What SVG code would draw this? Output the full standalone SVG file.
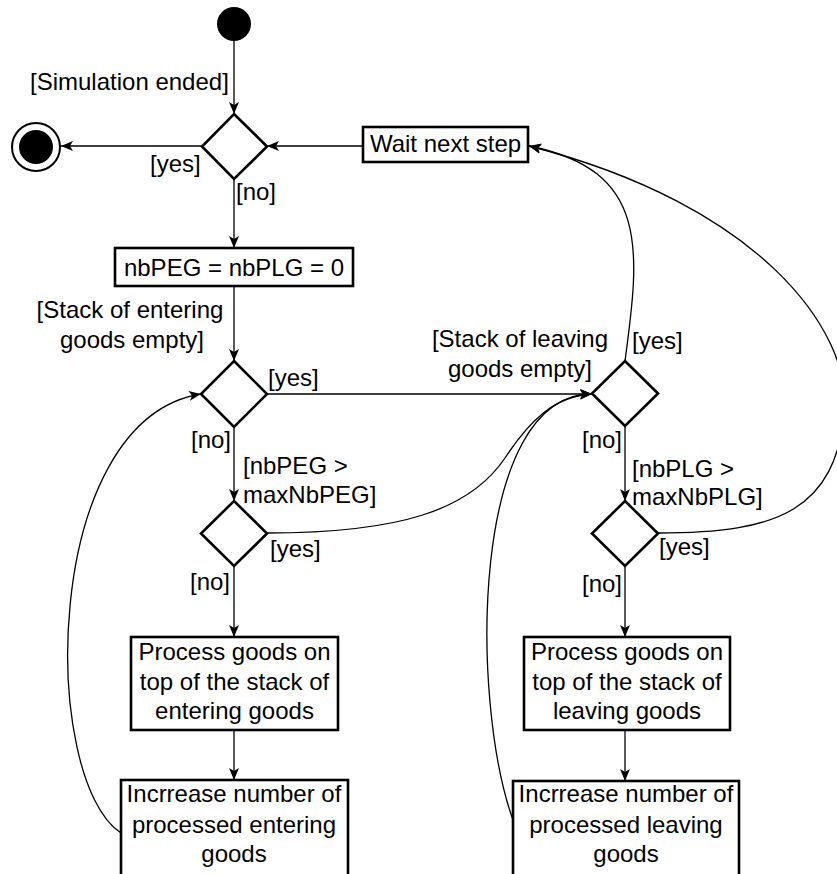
<svg xmlns="http://www.w3.org/2000/svg" width="837" height="874" viewBox="0 0 837 874">
<style>
text{font-family:"Liberation Sans",Arial,sans-serif;font-size:24px;fill:#000}
.n{fill:#fff;stroke:#000;stroke-width:2.6}
.c{fill:none;stroke:#000;stroke-width:1.3}
.m{text-anchor:middle}
</style>
<defs>
<marker id="arr" markerWidth="13" markerHeight="10" refX="12" refY="5" orient="auto" markerUnits="userSpaceOnUse">
<path d="M0,0 L12,5 L0,10 L3,5 Z" fill="#000"/>
</marker>
</defs>
<rect width="837" height="874" fill="#fff"/>
<g id="connectors">
<path class="c" d="M234,41 L234,114" marker-end="url(#arr)"/>
<path class="c" d="M202,146 L61,146" marker-end="url(#arr)"/>
<path class="c" d="M363,146 L267,146" marker-end="url(#arr)"/>
<path class="c" d="M234,179 L234,248" marker-end="url(#arr)"/>
<path class="c" d="M234,286 L234,361" marker-end="url(#arr)"/>
<path class="c" d="M267,394 L592,394" marker-end="url(#arr)"/>
<path class="c" d="M234,427 L234,501" marker-end="url(#arr)"/>
<path class="c" d="M234,566 L234,637" marker-end="url(#arr)"/>
<path class="c" d="M234,730 L234,780" marker-end="url(#arr)"/>
<path class="c" d="M625,426 L625,501" marker-end="url(#arr)"/>
<path class="c" d="M625,566 L625,637" marker-end="url(#arr)"/>
<path class="c" d="M625,730 L625,781" marker-end="url(#arr)"/>
<path class="c" d="M121,833 C40,780 40,420 201,394" marker-end="url(#arr)"/>
<path class="c" d="M267,533 C400,533 470,510 505,458 C530,420 555,396 592,394" marker-end="url(#arr)"/>
<path class="c" d="M513,820 C470,700 470,394 592,394" marker-end="url(#arr)"/>
<path class="c" d="M625,361 C640,250 650,170 529,146" marker-end="url(#arr)"/>
<path class="c" d="M658,533 C780,533 835,510 845,410 C850,330 760,205 529,146" marker-end="url(#arr)"/>
</g>
<g id="start"><circle cx="234" cy="24" r="17" fill="#000"/></g>
<g id="end"><circle cx="36" cy="147" r="24" fill="#fff" stroke="#000" stroke-width="2"/><circle cx="36" cy="147" r="17" fill="#000"/></g>
<g id="d1"><polygon class="n" points="234,114 267,146.5 234,179 202,146.5"/></g>
<g id="wait"><rect class="n" x="363" y="127" width="165" height="35"/><text class="m" x="445.5" y="152">Wait next step</text></g>
<g id="init"><rect class="n" x="115" y="248" width="238" height="38"/><text class="m" x="234" y="276">nbPEG = nbPLG = 0</text></g>
<g id="d2"><polygon class="n" points="234,361 267,394 234,427 201,394"/></g>
<g id="d4"><polygon class="n" points="234,501 267,533.5 234,566 201,533.5"/></g>
<g id="d3"><polygon class="n" points="625,361 658,393.5 625,426 592,393.5"/></g>
<g id="d5"><polygon class="n" points="625,501 658,533.5 625,566 592,533.5"/></g>
<g id="procE"><rect class="n" x="131" y="637" width="207" height="93"/>
<text class="m" x="234.5" y="660">Process goods on</text><text class="m" x="234.5" y="690">top of the stack of</text><text class="m" x="234.5" y="719">entering goods</text></g>
<g id="incE"><rect class="n" x="121" y="780" width="227" height="100"/>
<text class="m" x="234" y="802">Incrrease number of</text><text class="m" x="234" y="833">processed entering</text><text class="m" x="234" y="862">goods</text></g>
<g id="procL"><rect class="n" x="524" y="637" width="206" height="93"/>
<text class="m" x="627" y="660">Process goods on</text><text class="m" x="627" y="690">top of the stack of</text><text class="m" x="627" y="719">leaving goods</text></g>
<g id="incL"><rect class="n" x="513" y="781" width="226" height="100"/>
<text class="m" x="626" y="802">Incrrease number of</text><text class="m" x="626" y="833">processed leaving</text><text class="m" x="626" y="862">goods</text></g>
<g id="labels">
<text x="30" y="90">[Simulation ended]</text>
<text x="150" y="172">[yes]</text>
<text x="236" y="200">[no]</text>
<text class="m" x="130" y="318">[Stack of entering</text>
<text class="m" x="132" y="348">goods empty]</text>
<text x="268" y="386">[yes]</text>
<text x="191" y="448">[no]</text>
<text x="243" y="474">[nbPEG &gt;</text>
<text x="243" y="503">maxNbPEG]</text>
<text x="270" y="557">[yes]</text>
<text x="190" y="590">[no]</text>
<text class="m" x="520" y="347">[Stack of leaving</text>
<text class="m" x="520" y="377">goods empty]</text>
<text x="632" y="349">[yes]</text>
<text x="582" y="448">[no]</text>
<text x="632" y="477">[nbPLG &gt;</text>
<text x="632" y="505">maxNbPLG]</text>
<text x="659" y="555">[yes]</text>
<text x="582" y="592">[no]</text>
</g>
</svg>
